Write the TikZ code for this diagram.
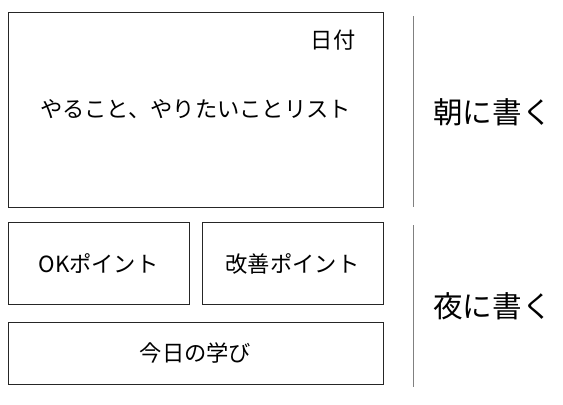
\documentclass[tikz,border=0pt]{standalone}
\usepackage{fontspec}
\setmainfont{Noto Sans CJK JP}
\usetikzlibrary{positioning}

\tikzset{
  box/.style={draw=black!85, line width=0.75pt, inner sep=0pt, font=\fontsize{16.7}{18}\selectfont},
  sep/.style={draw=black!50, line width=0.75pt},
  time/.style={font=\fontsize{22.2}{24}\selectfont}
}

\begin{document}
\begin{tikzpicture}[x=0.75pt,y=-0.75pt]

  % fix the page size
  \useasboundingbox (0,0) rectangle (563,404);

  % draw the boxes
  \node[box, minimum width=281.25pt, minimum height=146.25pt] (todo) at (195.5,109.5) {やること、やりたいことリスト};
  \node[box, minimum width=135.75pt, minimum height=61.5pt] (ok) at (98.5,263.5) {OKポイント};
  \node[box, minimum width=135.75pt, minimum height=61.5pt] (kaizen) at (292.5,263.5) {改善ポイント};
  \node[box, minimum width=281.25pt, minimum height=46.5pt] (learn) at (195.5,353) {今日の学び};

  % date in the corner
  \node[font=\fontsize{16.7}{18}\selectfont] (date) at (333,40) {日付};

  % separators
  \coordinate (S0) at (413,16);
  \coordinate (S1) at (413,207);
  \coordinate (S2) at (413,225);
  \coordinate (S3) at (413,387);
  \draw[sep] (S0) -- (S1);
  \draw[sep] (S2) -- (S3);

  % when to write
  \node[time] (morning) at (492.5,112) {朝に書く};
  \node[time] (night) at (492.5,306) {夜に書く};

\end{tikzpicture}
\end{document}
